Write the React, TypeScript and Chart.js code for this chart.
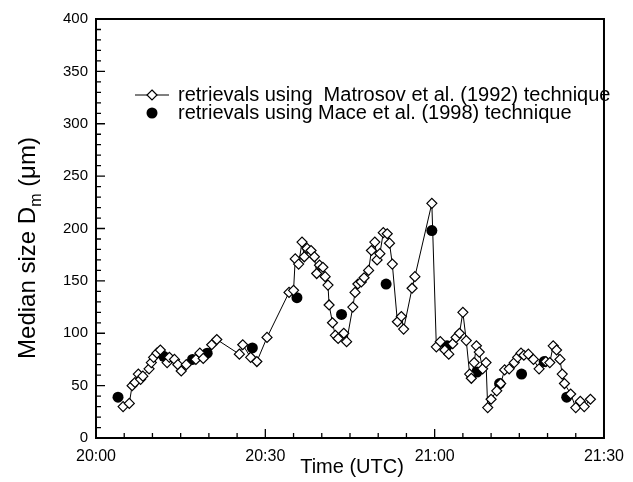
import React, { useEffect, useRef } from "react";
import { Chart, registerables } from "chart.js";

Chart.register(...registerables);

// Time in minutes after 20:00 UTC, median size in micrometres
const matrosovTime = [
  4.8, 5.9, 6.4, 6.9, 7.5, 7.9, 8.3, 9.4, 9.8, 10.2, 10.8, 11.4, 12.6, 13.0, 13.9, 14.5, 15.1, 16.0,
  17.7, 18.4, 19.0, 20.5, 21.4, 25.4, 26.0, 27.4, 28.5, 30.3, 34.2, 35.0, 35.3, 35.9, 36.5, 36.9,
  37.4, 38.1, 38.7, 39.1, 39.6, 40.2, 40.6, 41.1, 41.3, 41.9, 42.4, 42.9, 43.9, 44.4, 45.5, 45.9,
  46.4, 47.0, 47.5, 48.3, 48.8, 49.4, 49.8, 50.3, 50.9, 51.6, 52.0, 52.5, 53.4, 54.1, 54.5, 56.0,
  56.5, 59.5, 60.3, 61.0, 61.8, 62.5, 63.2, 63.8, 64.4, 65.0, 65.6, 66.2, 66.5, 67.0, 67.4, 67.9,
  68.5, 69.1, 69.4, 70.0, 71.0, 71.7, 72.4, 73.2, 74.1, 74.7, 75.3, 75.8, 76.6, 77.5, 78.5, 79.7,
  80.4, 81.0, 81.6, 82.2, 82.6, 83.0, 84.1, 85.0, 85.8, 86.5, 87.6,
];
const matrosovSize = [
  30, 33, 50, 53, 61, 56, 59, 66, 72, 77, 81, 84, 72, 77, 75, 70, 64, 70,
  75, 81, 76, 89, 94, 80, 89, 77, 73, 96, 139, 141, 171, 166, 187, 173,
  181, 179, 173, 157, 165, 163, 154, 146, 127, 110, 98, 95, 100, 92, 125, 139,
  147, 149, 153, 160, 179, 187, 170, 176, 196, 195, 186, 166, 111, 116, 104, 143,
  154, 224, 87, 92, 84, 80, 90, 96, 100, 120, 93, 61, 57, 72, 88, 82,
  66, 72, 29, 37, 45, 52, 65, 66, 72, 77, 81, 79, 80, 75, 66, 73,
  72, 88, 84, 75, 61, 52, 42, 29, 35, 30, 37,
];
const maceTime = [3.9, 12.0, 17.1, 19.7, 27.7, 35.6, 43.5, 51.4, 59.5, 62.2, 67.5, 71.5, 75.4, 79.4, 83.4];
const maceSize = [39, 78, 75, 81, 86, 134, 118, 147, 198, 88, 63, 52, 61, 73, 39];

const xTickLabels = ["20:00", "20:30", "21:00", "21:30"];
const legendLabels = [
  "retrievals using  Matrosov et al. (1992) technique",
  "retrievals using Mace et al. (1998) technique",
];
const FONT = "'Liberation Sans', Arial, Helvetica, sans-serif";

const decorPlugin = {
  id: "decor",
  afterDraw(chart: any) {
    const ctx = chart.ctx;
    const { left, right, top, bottom } = chart.chartArea;
    const xs = chart.scales.x;
    const ys = chart.scales.y;
    ctx.save();
    ctx.strokeStyle = "#000";
    ctx.lineWidth = 2;
    ctx.strokeRect(left, top, right - left, bottom - top);
    ctx.lineWidth = 1.3;
    ctx.beginPath();
    for (let v = 0; v <= 400; v += 10) {
      const p = ys.getPixelForValue(v);
      const len = v % 50 === 0 ? 9 : 5;
      ctx.moveTo(left, p);
      ctx.lineTo(left + len, p);
    }
    for (let v = 0; v <= 90; v += 5) {
      const p = xs.getPixelForValue(v);
      const len = v % 30 === 0 ? 9 : 5;
      ctx.moveTo(p, bottom);
      ctx.lineTo(p, bottom - len);
    }
    ctx.stroke();

    // legend
    const lx = 152;
    const ly1 = 95;
    const ly2 = 113;
    ctx.lineWidth = 1;
    ctx.beginPath();
    ctx.moveTo(lx - 17, ly1);
    ctx.lineTo(lx + 17, ly1);
    ctx.stroke();
    ctx.beginPath();
    ctx.moveTo(lx, ly1 - 5);
    ctx.lineTo(lx + 5, ly1);
    ctx.lineTo(lx, ly1 + 5);
    ctx.lineTo(lx - 5, ly1);
    ctx.closePath();
    ctx.fillStyle = "#fff";
    ctx.fill();
    ctx.lineWidth = 1.2;
    ctx.stroke();
    ctx.beginPath();
    ctx.arc(lx, ly2, 5.5, 0, Math.PI * 2);
    ctx.fillStyle = "#000";
    ctx.fill();
    ctx.font = `20px ${FONT}`;
    ctx.textBaseline = "middle";
    ctx.textAlign = "left";
    ctx.fillText(legendLabels[0], 178, ly1);
    ctx.fillText(legendLabels[1], 178, ly2);

    // x title
    ctx.font = `20px ${FONT}`;
    ctx.textAlign = "center";
    ctx.textBaseline = "alphabetic";
    ctx.fillText("Time (UTC)", 352, 473);

    // y title with subscript
    ctx.translate(35, 248);
    ctx.rotate(-Math.PI / 2);
    const big = `24px ${FONT}`;
    const small = `16px ${FONT}`;
    ctx.font = big;
    const w1 = ctx.measureText("Median size D").width;
    const w3 = ctx.measureText(" (\u03bcm)").width;
    ctx.font = small;
    const w2 = ctx.measureText("m").width;
    let x0 = -(w1 + w2 + w3) / 2;
    ctx.textAlign = "left";
    ctx.font = big;
    ctx.fillText("Median size D", x0, 0);
    x0 += w1;
    ctx.font = small;
    ctx.fillText("m", x0, 6);
    x0 += w2;
    ctx.font = big;
    ctx.fillText(" (\u03bcm)", x0, 0);
    ctx.restore();
  },
};

export default function App() {
  const ref = useRef<HTMLCanvasElement | null>(null);
  useEffect(() => {
    if (!ref.current) return;
    Chart.defaults.font.family = FONT;
    const chart = new Chart(ref.current, {
      type: "scatter",
      data: {
        datasets: [
          {
            label: legendLabels[0],
            data: matrosovTime.map((t, i) => ({ x: t, y: matrosovSize[i] })),
            showLine: true,
            borderColor: "#000",
            borderWidth: 1,
            pointStyle: "rectRot",
            pointRadius: 5,
            pointBackgroundColor: "#fff",
            pointBorderColor: "#000",
            pointBorderWidth: 1.2,
            order: 0,
          },
          {
            label: legendLabels[1],
            data: maceTime.map((t, i) => ({ x: t, y: maceSize[i] })),
            showLine: false,
            pointStyle: "circle",
            pointRadius: 5.5,
            pointBackgroundColor: "#000",
            pointBorderColor: "#000",
            pointBorderWidth: 0,
            order: 1,
          },
        ],
      },
      options: {
        responsive: false,
        animation: false,
        devicePixelRatio: 1,
        layout: { padding: { left: 0, right: 26, top: 19, bottom: 0 } },
        plugins: { legend: { display: false }, tooltip: { enabled: false } },
        scales: {
          x: {
            type: "linear",
            min: 0,
            max: 90,
            grid: { display: true, drawOnChartArea: false, drawTicks: false },
            border: { display: false },
            ticks: {
              stepSize: 30,
              padding: 9,
              color: "#000",
              font: { size: 16 },
              maxRotation: 0,
              callback: (v: any) => xTickLabels[Math.round(Number(v) / 30)] ?? "",
            },
            afterFit: (s: any) => {
              s.height = 44;
            },
          },
          y: {
            type: "linear",
            min: 0,
            max: 400,
            grid: { display: true, drawOnChartArea: false, drawTicks: false },
            border: { display: false },
            ticks: { stepSize: 50, padding: 8, color: "#000", font: { size: 15 } },
            afterFit: (s: any) => {
              s.width = 96;
            },
          },
        },
      },
      plugins: [decorPlugin],
    });
    return () => chart.destroy();
  }, []);
  return (
    <div style={{ position: "fixed", left: 0, top: 0, width: 633, height: 482, background: "#fff" }}>
      <canvas ref={ref} width={633} height={482} />
    </div>
  );
}
